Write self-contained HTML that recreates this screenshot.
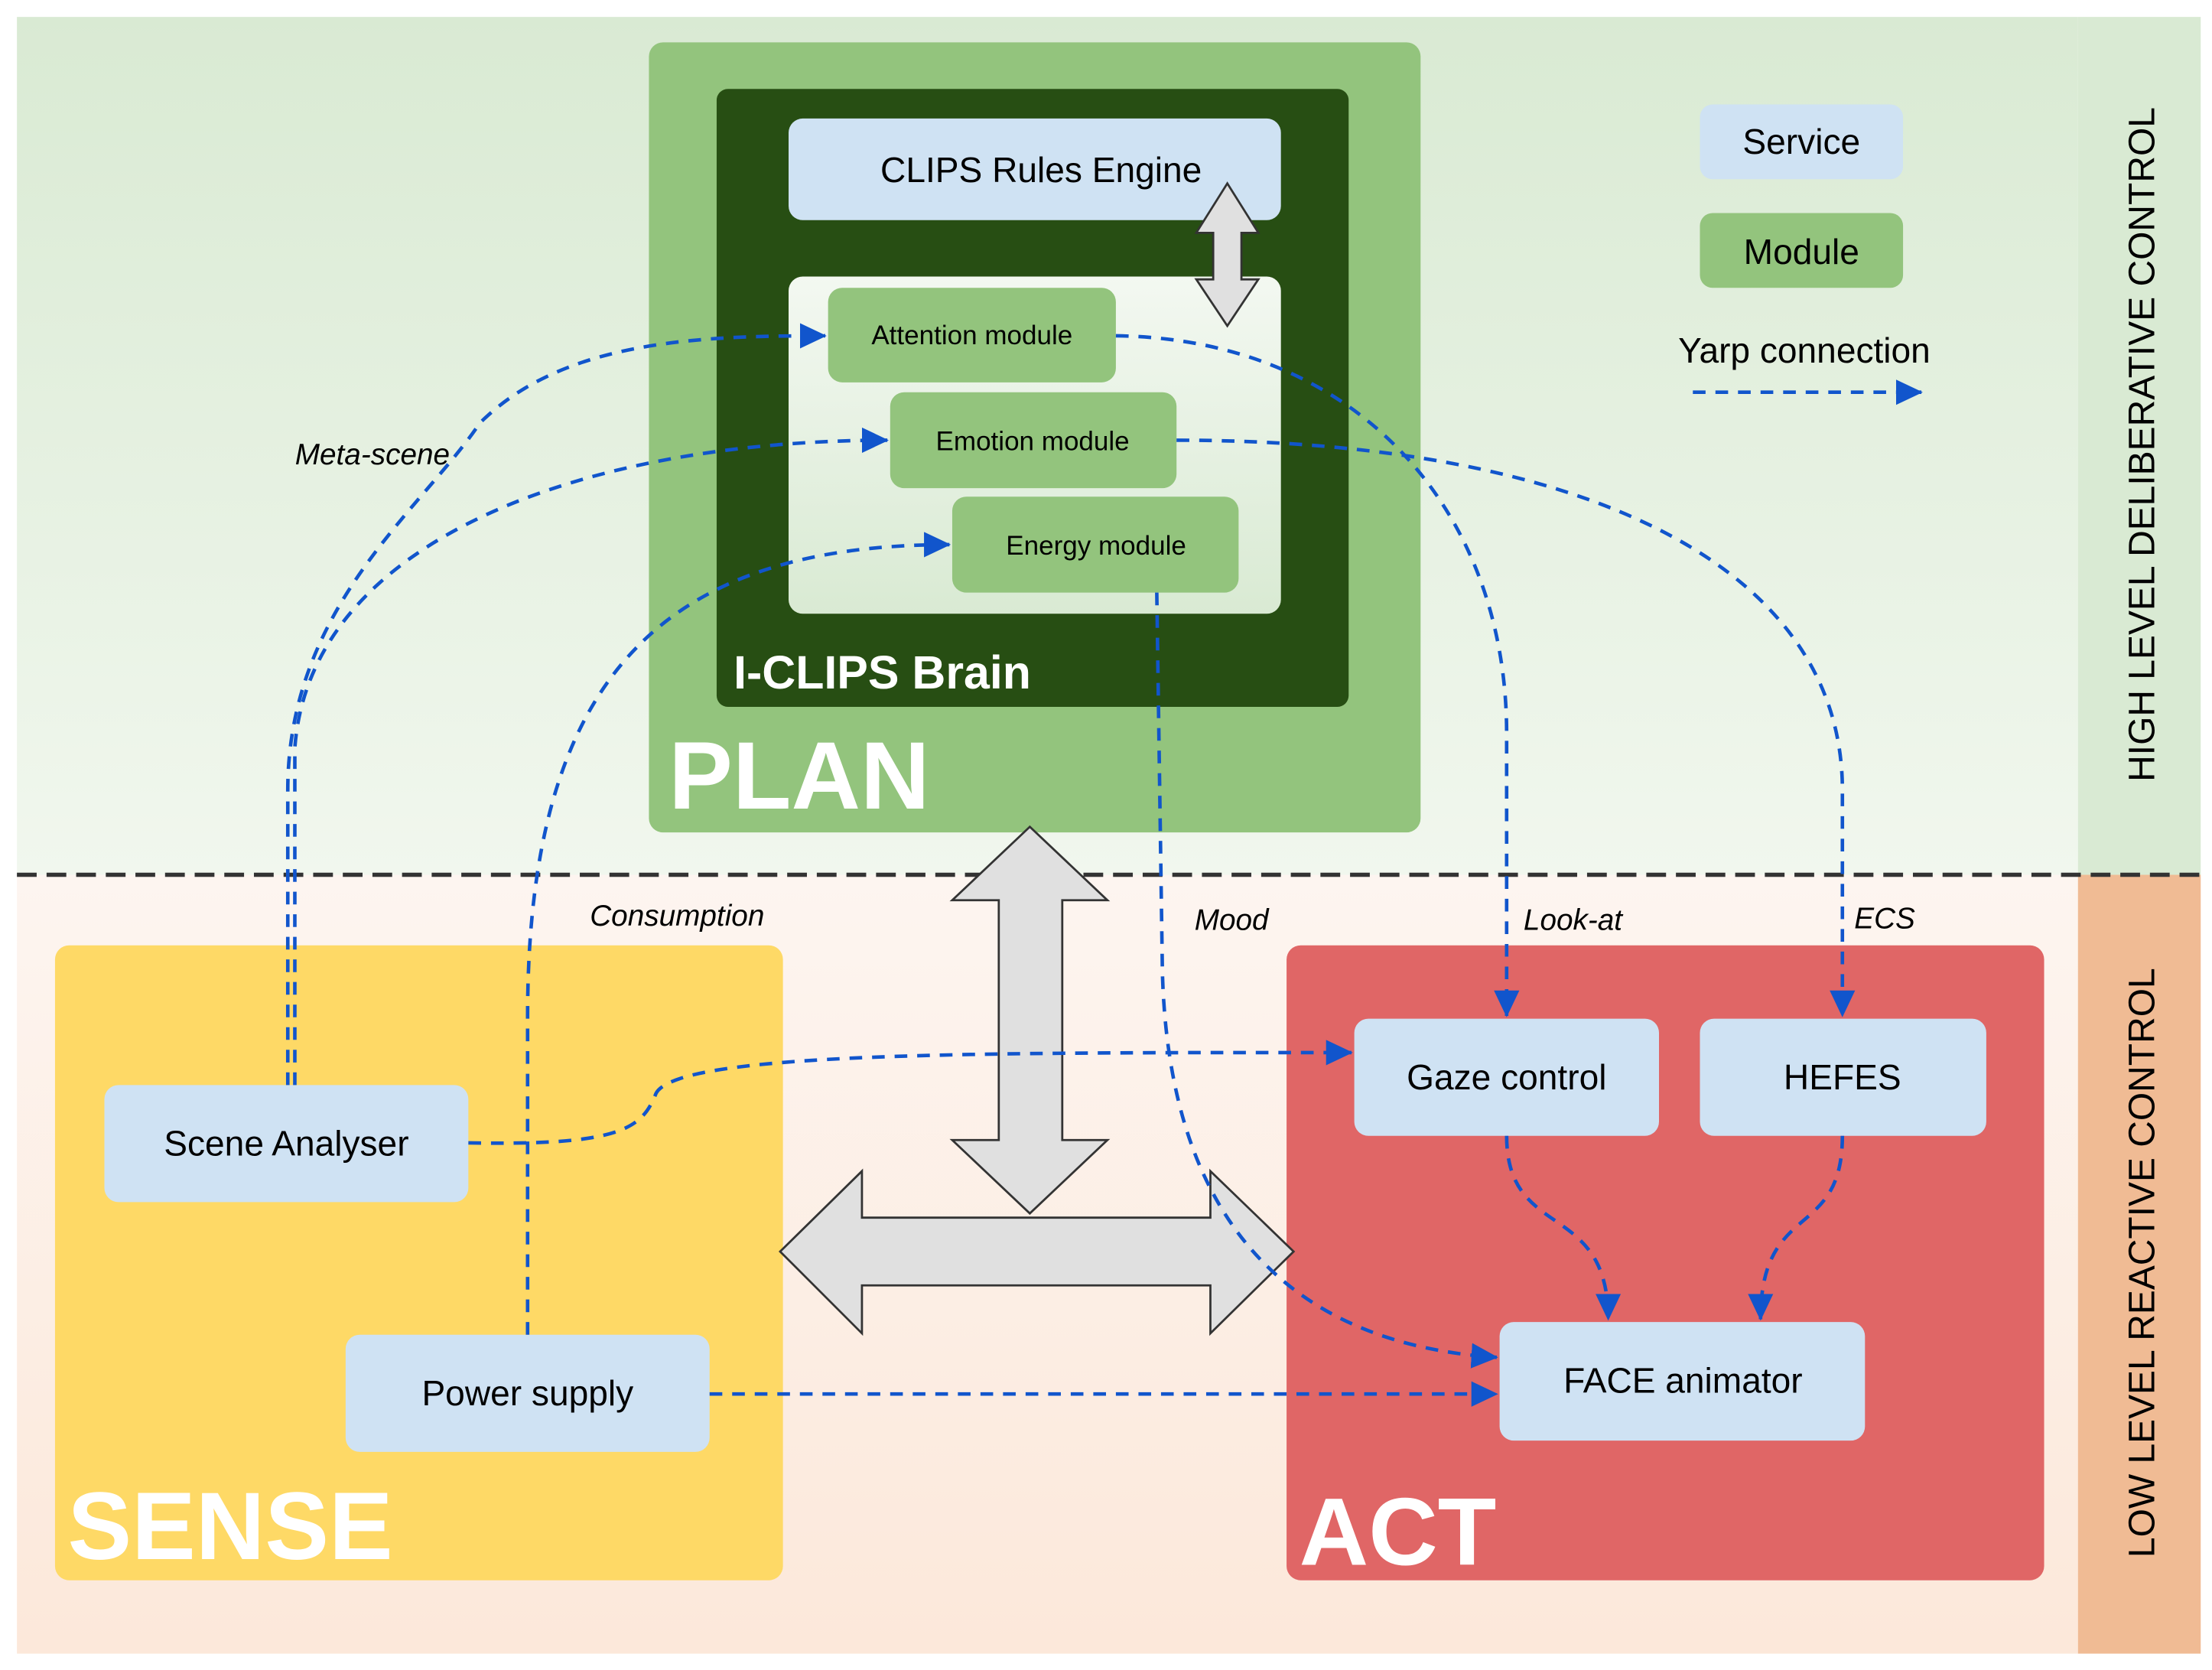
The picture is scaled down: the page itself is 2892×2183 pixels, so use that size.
<!DOCTYPE html>
<html><head><meta charset="utf-8"><style>html,body{margin:0;padding:0;background:#fff}svg{display:block}</style></head>
<body>
<svg width="2892" height="2183" viewBox="0 0 1568 1183.6" preserveAspectRatio="none" xmlns="http://www.w3.org/2000/svg" font-family="Liberation Sans, Arial, sans-serif">
<defs>
<linearGradient id="gt" x1="0" y1="0" x2="0" y2="1"><stop offset="0" stop-color="#d9ead3"/><stop offset="1" stop-color="#f1f7ee"/></linearGradient>
<linearGradient id="gb" x1="0" y1="0" x2="0" y2="1"><stop offset="0" stop-color="#fdf5f0"/><stop offset="1" stop-color="#fce8da"/></linearGradient>
<linearGradient id="gi" x1="0" y1="0" x2="0" y2="1"><stop offset="0" stop-color="#f3f8f1"/><stop offset="1" stop-color="#d9ead3"/></linearGradient>
<marker id="ah" markerWidth="20" markerHeight="20" refX="18" refY="9" orient="auto" markerUnits="userSpaceOnUse"><path d="M0,0 L19,9 L0,18 Z" fill="#1155cc"/></marker>
</defs>
<rect width="1568" height="1184" fill="#fff"/>
<rect x="12" y="12" width="1461" height="608" fill="url(#gt)"/>
<rect x="1473" y="12" width="87" height="608" fill="#d9ead3"/>
<rect x="12" y="620" width="1461" height="552" fill="url(#gb)"/>
<rect x="1473" y="620" width="87" height="552" fill="#f0bb94"/>
<line x1="12" y1="620" x2="1560" y2="620" stroke="#333" stroke-width="3" stroke-dasharray="14,7"/>
<text transform="translate(1527,315) rotate(-90)" text-anchor="middle" font-size="26" fill="#000">HIGH LEVEL DELIBERATIVE CONTROL</text>
<text transform="translate(1527,895) rotate(-90)" text-anchor="middle" font-size="26" fill="#000">LOW LEVEL REACTIVE CONTROL</text>

<rect x="460" y="30" width="547" height="560" rx="10" fill="#93c47d"/>
<rect x="508" y="63" width="448" height="438" rx="8" fill="#274e13"/>
<rect x="559" y="84" width="349" height="72" rx="10" fill="#cfe2f3"/>
<text x="738" y="129" text-anchor="middle" font-size="25">CLIPS Rules Engine</text>
<rect x="559" y="196" width="349" height="239" rx="10" fill="url(#gi)"/>
<rect x="587" y="204" width="204" height="67" rx="10" fill="#93c47d"/>
<text x="689" y="244" text-anchor="middle" font-size="19">Attention module</text>
<rect x="631" y="278" width="203" height="68" rx="10" fill="#93c47d"/>
<text x="732" y="319" text-anchor="middle" font-size="19">Emotion module</text>
<rect x="675" y="352" width="203" height="68" rx="10" fill="#93c47d"/>
<text x="777" y="393" text-anchor="middle" font-size="19">Energy module</text>
<path d="M870,130 L892,165 L880,165 L880,198 L892,198 L870,231 L848,198 L860,198 L860,165 L848,165 Z" fill="#e0e0e0" stroke="#333" stroke-width="1.5"/>
<text x="520" y="488" font-size="33" font-weight="bold" fill="#fff">I-CLIPS Brain</text>
<text x="474" y="573" font-size="68" font-weight="bold" fill="#fff">PLAN</text>

<rect x="1205" y="74" width="144" height="53" rx="9" fill="#cfe2f3"/>
<text x="1277" y="109" text-anchor="middle" font-size="25">Service</text>
<rect x="1205" y="151" width="144" height="53" rx="9" fill="#93c47d"/>
<text x="1277" y="187" text-anchor="middle" font-size="25">Module</text>
<text x="1279" y="257" text-anchor="middle" font-size="25">Yarp connection</text>

<rect x="39" y="670" width="516" height="450" rx="10" fill="#fed966"/>
<text x="48" y="1105" font-size="68" font-weight="bold" fill="#fff">SENSE</text>
<rect x="912" y="670" width="537" height="450" rx="10" fill="#e06666"/>
<text x="921" y="1109" font-size="68" font-weight="bold" fill="#fff">ACT</text>

<rect x="74" y="769" width="258" height="83" rx="10" fill="#cfe2f3"/>
<text x="203" y="819" text-anchor="middle" font-size="25">Scene Analyser</text>
<rect x="245" y="946" width="258" height="83" rx="10" fill="#cfe2f3"/>
<text x="374" y="996" text-anchor="middle" font-size="25">Power supply</text>
<rect x="960" y="722" width="216" height="83" rx="10" fill="#cfe2f3"/>
<text x="1068" y="772" text-anchor="middle" font-size="25">Gaze control</text>
<rect x="1205" y="722" width="203" height="83" rx="10" fill="#cfe2f3"/>
<text x="1306" y="772" text-anchor="middle" font-size="25">HEFES</text>
<rect x="1063" y="937" width="259" height="84" rx="10" fill="#cfe2f3"/>
<text x="1193" y="987" text-anchor="middle" font-size="25">FACE animator</text>

<path d="M730,586 L785,638 L753,638 L753,808 L785,808 L730,860 L675,808 L708,808 L708,638 L675,638 Z" fill="#e0e0e0" stroke="#333" stroke-width="1.5"/>
<path d="M553,887 L611,830 L611,863 L858,863 L858,830 L917,887 L858,945 L858,911 L611,911 L611,945 Z" fill="#e0e0e0" stroke="#333" stroke-width="1.5"/>

<g fill="none" stroke="#1155cc" stroke-width="2.5" stroke-dasharray="9,7">
<line x1="1200" y1="278" x2="1362" y2="278" marker-end="url(#ah)"/>
<path d="M204,769 L204,560 C204,430 300,360 340,300 C400,240 500,238 585,238" marker-end="url(#ah)"/>
<path d="M209,769 L209,530 C220,380 420,312 629,312" marker-end="url(#ah)"/>
<path d="M374,946 L374,720 C374,480 470,386 673,386" marker-end="url(#ah)"/>
<path d="M820,420 L824,690 C830,900 950,955 1061,962" marker-end="url(#ah)"/>
<path d="M791,238 C960,240 1068,360 1068,520 L1068,720" marker-end="url(#ah)"/>
<path d="M834,312 C1120,312 1306,400 1306,560 L1306,720" marker-end="url(#ah)"/>
<path d="M332,810 C440,812 455,800 465,775 C480,745 700,746 958,746" marker-end="url(#ah)"/>
<path d="M503,988 L1061,988" marker-end="url(#ah)"/>
<path d="M1068,805 C1068,880 1140,850 1140,935" marker-end="url(#ah)"/>
<path d="M1306,805 C1306,880 1248,850 1248,935" marker-end="url(#ah)"/>
</g>
<g font-size="21" font-style="italic" text-anchor="middle">
<text x="264" y="329">Meta-scene</text>
<text x="480" y="656">Consumption</text>
<text x="873" y="659">Mood</text>
<text x="1115" y="659">Look-at</text>
<text x="1336" y="658">ECS</text>
</g>
</svg>
</body></html>
